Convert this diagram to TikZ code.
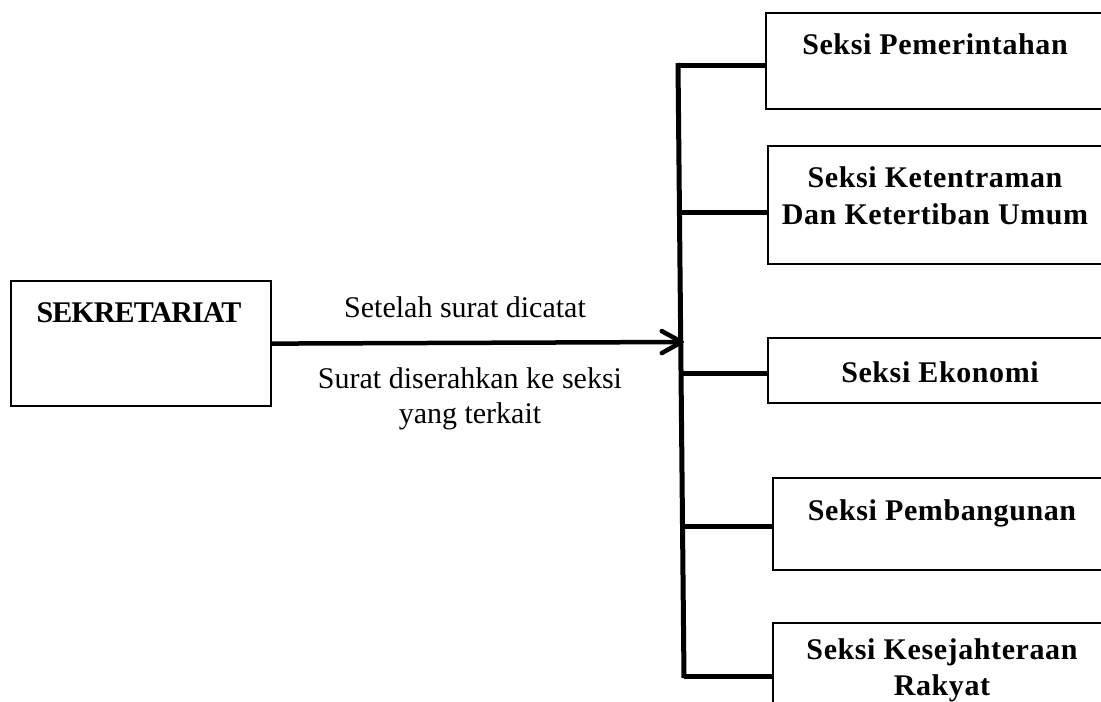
\documentclass[tikz,border=0pt]{standalone}
\usepackage{fontspec}
\setmainfont{Liberation Serif}
\usetikzlibrary{arrows.meta}
\begin{document}
\begin{tikzpicture}[x=1bp,y=-1bp,
  box/.style={draw=black,line width=2.2bp,anchor=north west,inner sep=0pt},
  lab/.style={font=\fontsize{30bp}{36bp}\selectfont\bfseries\addfontfeature{LetterSpace=2},anchor=base,inner sep=0pt,align=center},
  note/.style={font=\fontsize{30bp}{35bp}\selectfont,anchor=base,inner sep=0pt,align=center},
  bus/.style={line width=5bp},
  flow/.style={line width=4.5bp,-{Straight Barb[length=20bp,width=22bp,line width=4.5bp,round]}}]
\useasboundingbox (0,0) rectangle (1101,702);
\clip (0,0) rectangle (1101,702);
% left box
\node[box,minimum width=260bp,minimum height=125bp] (sek) at (10,280) {};
\node[font=\fontsize{30bp}{36bp}\selectfont\bfseries\addfontfeature{LetterSpace=-3},anchor=base,inner sep=0pt] (sekt) at (139,322) {SEKRETARIAT};
% right boxes
\node[box,minimum width=345bp,minimum height=96bp] (s1) at (765,12) {};
\node[box,minimum width=343bp,minimum height=118bp] (s2) at (767,145) {};
\node[box,minimum width=343bp,minimum height=65bp] (s3) at (767,337) {};
\node[box,minimum width=338bp,minimum height=92bp] (s4) at (772,477) {};
\node[box,minimum width=338bp,minimum height=100bp] (s5) at (772,622) {};
\node[lab] (t1) at (935,55) {Seksi Pemerintahan};
\node[lab] (t2) at (935,224) {Seksi Ketentraman\\Dan Ketertiban Umum};
\node[lab] (t3) at (940,382) {Seksi Ekonomi};
\node[lab] (t4) at (942,520) {Seksi Pembangunan};
\node[lab] (t5) at (942,695) {Seksi Kesejahteraan\\Rakyat};
% bus
\coordinate (btop) at (678,63);
\coordinate (bbot) at (684,678);
\draw[bus] (btop) -- (bbot);
\coordinate (b1) at (678,66);
\coordinate (b2) at (680,212);
\coordinate (b3) at (681,373);
\coordinate (b4) at (682,526);
\coordinate (b5) at (684,676);
\draw[bus] (b1) -- (b1 -| s1.west);
\draw[bus] (b2) -- (b2 -| s2.west);
\draw[bus] (b3) -- (b3 -| s3.west);
\draw[bus] (b4) -- (b4 -| s4.west);
\draw[bus] (b5) -- (b5 -| s5.west);
% arrow
\coordinate (atip) at (684,342);
\draw[flow] (sek.east) -- (atip);
\node[note] (n1) at (465,317) {Setelah surat dicatat};
\node[note] (n2) at (470,423) {Surat diserahkan ke seksi\\yang terkait};
\end{tikzpicture}
\end{document}
